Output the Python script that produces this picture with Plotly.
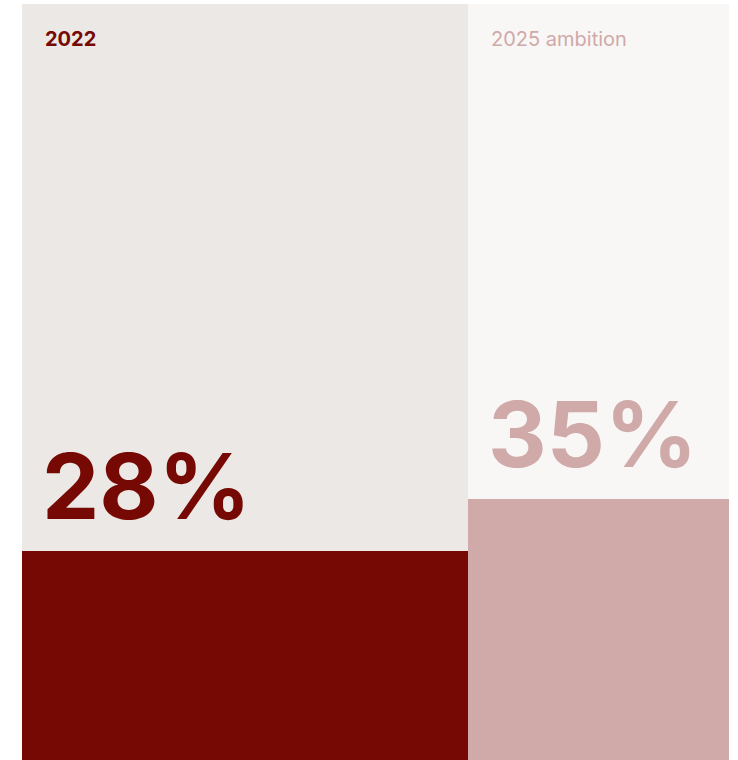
import plotly.graph_objects as go

categories = ["2022", "2025 ambition"]
values = [28, 35]
labels = ["28%", "35%"]
widths = [446, 261]
bar_colors = ["#760903", "#D0A9A9"]
bg_colors = ["#ECE8E5", "#F9F7F6"]
title_colors = ["#760903", "#D0A9A9"]
title_weights = ["bold", "normal"]

YMAX = 101.3
starts = [0, widths[0]]
centers = [s + w / 2 for s, w in zip(starts, widths)]

fig = go.Figure()
fig.add_trace(go.Bar(
    x=centers, y=[YMAX] * 2, width=widths, marker=dict(color=bg_colors, line=dict(width=0)),
    hoverinfo="skip", showlegend=False))
fig.add_trace(go.Bar(
    x=centers, y=values, width=widths, marker=dict(color=bar_colors, line=dict(width=0)),
    showlegend=False, hovertext=categories))

for i in range(2):
    fig.add_annotation(
        x=starts[i], y=values[i], xref="x", yref="y", text=labels[i],
        showarrow=False, xanchor="left", yanchor="bottom", xshift=18, yshift=8,
        font=dict(family="Inter", size=91, color=bar_colors[i], weight=700))
    fig.add_annotation(
        x=starts[i], y=1, xref="x", yref="paper",
        text=(f"<b>{categories[i]}</b>" if title_weights[i] == "bold" else categories[i]),
        showarrow=False, xanchor="left", yanchor="top", xshift=21, yshift=-21,
        font=dict(family="Inter", size=20, color=title_colors[i]))

fig.update_layout(
    width=738, height=760, margin=dict(l=22, r=9, t=4, b=0),
    paper_bgcolor="white", plot_bgcolor="white", barmode="overlay", bargap=0,
    xaxis=dict(range=[0, sum(widths)], visible=False, fixedrange=True),
    yaxis=dict(range=[0, YMAX], visible=False, fixedrange=True),
)
fig.write_html("out.html")
